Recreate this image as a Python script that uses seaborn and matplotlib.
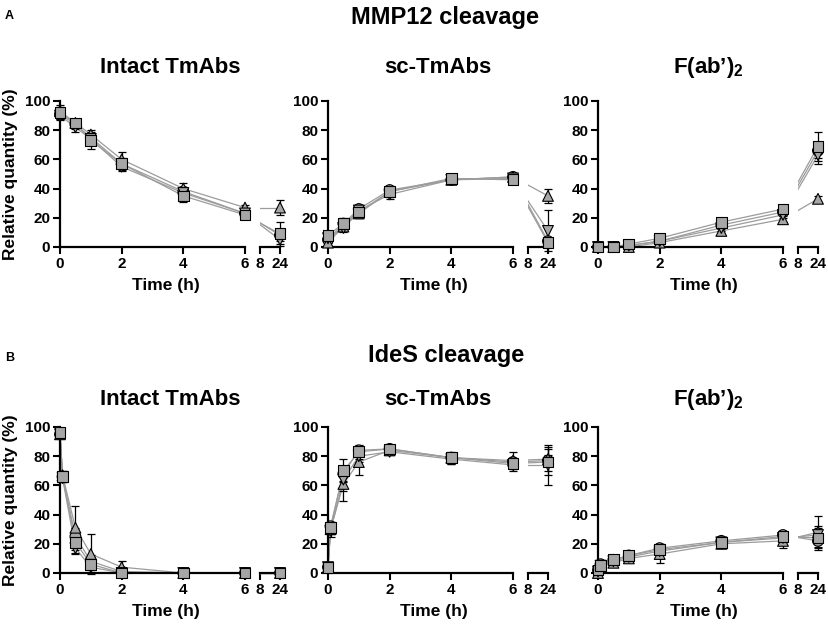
import numpy as np
import pandas as pd
import matplotlib
matplotlib.use("Agg")
import matplotlib.pyplot as plt
import seaborn as sns
from matplotlib.patches import Rectangle
from matplotlib.spines import Spine

# ---- data (mean and SD) ----
times_mmp = [0, 0.5, 1, 2, 4, 6, 24]
times_ides = [0, 0.083, 0.5, 1, 2, 4, 6, 24]
marker_order = ["o", "^", "v", "s"]
tick_pos = [0, 2, 4, 6, 8, 24]
tick_labels = ["0", "2", "4", "6", "8", "24"]

# MMP12 cleavage
mmp_intact = {"o": [91, 84, 75, 57, 38, 23, 8],
              "^": [93, 85, 77, 60, 40, 27, 27],
              "v": [90, 82, 74, 55, 37, 23, 5],
              "s": [92, 85, 73, 57, 35, 22, 9]}
mmp_intact_sd = {"o": [3, 3, 3, 3, 3, 2, 4],
                 "^": [4, 3, 3, 5, 4, 2, 5],
                 "v": [3, 3, 4, 3, 3, 2, 3],
                 "s": [4, 3, 6, 4, 4, 2, 8]}
mmp_sc = {"o": [5, 16, 26, 39, 46, 48, 4],
          "^": [3, 14, 23, 38, 46, 48, 35],
          "v": [6, 13, 25, 36, 46, 47, 11],
          "s": [8, 16, 24, 38, 47, 46, 3]}
mmp_sc_sd = {"o": [2, 3, 3, 2, 2, 2, 2],
             "^": [2, 3, 3, 3, 2, 2, 5],
             "v": [2, 3, 3, 3, 3, 2, 14],
             "s": [3, 4, 4, 4, 3, 3, 2]}
mmp_fab = {"o": [0, 0, 1, 4, 15, 24, 66],
           "^": [0, 0, 0, 3, 11, 19, 33],
           "v": [0, 0, 1, 4, 13, 22, 63],
           "s": [0, 0, 2, 6, 17, 26, 69]}
mmp_fab_sd = {"o": [0, 1, 1, 1, 2, 2, 5],
              "^": [0, 0, 1, 1, 2, 2, 2],
              "v": [0, 0, 1, 1, 2, 2, 6],
              "s": [0, 1, 1, 2, 2, 2, 10]}

# IdeS cleavage
ides_intact = {"o": [95, 66, 25, 8, 1, 0, 0, 0],
               "^": [95, 67, 31, 13, 4, 0, 0, 0],
               "v": [95, 65, 17, 4, 0, 0, 0, 0],
               "s": [96, 66, 21, 6, 0, 0, 0, 0]}
ides_intact_sd = {"o": [1, 3, 6, 4, 1, 0, 0, 0],
                  "^": [1, 3, 15, 14, 4, 0, 0, 0],
                  "v": [1, 3, 4, 2, 0, 0, 0, 0],
                  "s": [1, 4, 7, 3, 1, 0, 0, 0]}
ides_sc = {"o": [4, 32, 68, 84, 85, 79, 76, 77],
           "^": [4, 30, 61, 76, 84, 79, 77, 78],
           "v": [4, 29, 64, 80, 83, 78, 74, 74],
           "s": [4, 31, 70, 83, 85, 79, 75, 76]}
ides_sc_sd = {"o": [1, 3, 5, 3, 2, 3, 3, 4],
              "^": [1, 3, 12, 9, 2, 3, 6, 8],
              "v": [1, 4, 8, 4, 2, 3, 4, 14],
              "s": [1, 4, 8, 5, 2, 4, 3, 9]}
ides_fab = {"o": [2, 6, 9, 12, 17, 22, 26, 22],
            "^": [0, 4, 7, 10, 13, 20, 22, 28],
            "v": [1, 5, 8, 11, 15, 21, 24, 26],
            "s": [2, 5, 9, 12, 16, 21, 25, 24]}
ides_fab_sd = {"o": [1, 1, 2, 2, 3, 2, 3, 4],
               "^": [1, 1, 2, 2, 6, 3, 5, 11],
               "v": [1, 1, 2, 2, 3, 3, 3, 5],
               "s": [1, 1, 2, 2, 4, 4, 3, 8]}

panel_titles = ["Intact TmAbs", "sc-TmAbs", r"F(ab’)$_\mathbf{2}$"]

LINE_COLOR = "#9c9c9c"
FILL_COLOR = "#a6a6a6"

sns.set_style("ticks")
plt.rcParams["font.family"] = ["Liberation Sans", "DejaVu Sans"]
plt.rcParams["font.weight"] = "bold"
plt.rcParams["mathtext.fontset"] = "custom"
plt.rcParams["mathtext.rm"] = "Liberation Sans"
plt.rcParams["mathtext.bf"] = "Liberation Sans:bold"
for key in ["text.color", "axes.labelcolor", "xtick.color", "ytick.color", "axes.edgecolor"]:
    plt.rcParams[key] = "black"

# broken time axis: 0-6 h linear, short gap, then 8-24 h squeezed
brk_in = [-50, 0, 6, 8, 24, 200]
brk_out = [-50, 0, 6, 6.4865, 7.135, 7.135 + 176 * 0.04054]


def fwd(x):
    return np.interp(x, brk_in, brk_out)


def inv(y):
    return np.interp(y, brk_out, brk_in)


def make_frame(times, means):
    rows = []
    for key in marker_order:
        for t, v in zip(times, means[key]):
            rows.append({"time": t, "value": v, "series": key})
    return pd.DataFrame(rows)


def draw_panel(ax, times, means, sds, title, title_y, first_col):
    df = make_frame(times, means)
    early = df[df["time"] <= 6]
    sns.lineplot(data=early, x="time", y="value", units="series", estimator=None,
                 color=LINE_COLOR, linewidth=0.9, legend=False, ax=ax, zorder=1)
    # 6 h -> 24 h segment, only visible right of the axis break
    gap_clip = Rectangle((8, -50), 30, 300, transform=ax.transData,
                         facecolor="none", edgecolor="none")
    for key in marker_order:
        ln, = ax.plot(times[-2:], means[key][-2:], color=LINE_COLOR, lw=0.9, zorder=1)
        ln.set_clip_path(gap_clip)
    for key in marker_order:
        ax.errorbar(times, means[key], yerr=sds[key], fmt="none", ecolor="black",
                    elinewidth=0.9, capsize=3, capthick=0.9, clip_on=False, zorder=2)
    sns.scatterplot(data=df, x="time", y="value", style="series", style_order=marker_order,
                    markers={k: k for k in marker_order}, color=FILL_COLOR,
                    edgecolor="black", linewidth=0.8, s=60, legend=False, ax=ax,
                    zorder=3, clip_on=False)

    ax.set_xscale("function", functions=(fwd, inv))
    ax.set_xlim(0, 24)
    ax.set_ylim(0, 100)
    ax.set_xticks(tick_pos)
    ax.set_xticklabels(tick_labels)
    ax.set_yticks(range(0, 101, 20))
    ax.minorticks_off()
    ax.tick_params(direction="out", length=5, width=1.5, labelsize=11, pad=2,
                   colors="black")

    for side in ["top", "right"]:
        ax.spines[side].set_visible(False)
    ax.spines["left"].set_linewidth(1.6)
    ax.spines["bottom"].set_linewidth(1.6)
    ax.spines["bottom"].set_bounds(0, 6)
    extra = Spine.linear_spine(ax, "bottom")
    extra.set_bounds(8, 24)
    extra.set_linewidth(1.6)
    extra.set_edgecolor("black")
    ax.spines["bottom_late"] = extra

    ax.set_xlabel("Time (h)", fontsize=12.5, fontweight="bold")
    ax.xaxis.set_label_coords(0.48, -0.21)
    if first_col:
        ax.set_ylabel("Relative quantity (%)", fontsize=12.5, fontweight="bold")
        ax.yaxis.set_label_coords(-0.19, 0.5)
    else:
        ax.set_ylabel("")
    ax.text(0.5, title_y, title, transform=ax.transAxes, ha="center", va="baseline",
            fontsize=16, fontweight="bold")


fig = plt.figure(figsize=(8.29, 6.3), dpi=100)

lefts = [60 / 829, 328 / 829, 598 / 829]
width = 220 / 829
height = 146 / 630
rows = [
    (1 - 247 / 630, times_mmp, [mmp_intact, mmp_sc, mmp_fab],
     [mmp_intact_sd, mmp_sc_sd, mmp_fab_sd], 1.192),
    (1 - 573 / 630, times_ides, [ides_intact, ides_sc, ides_fab],
     [ides_intact_sd, ides_sc_sd, ides_fab_sd], 1.151),
]

for bottom, times, panel_means, panel_sds, title_y in rows:
    for i in range(3):
        ax = fig.add_axes([lefts[i], bottom, width, height])
        draw_panel(ax, times, panel_means[i], panel_sds[i], panel_titles[i], title_y, i == 0)

fig.text(445 / 829, 1 - 24 / 630, "MMP12 cleavage", ha="center", va="baseline",
         fontsize=17, fontweight="bold")
fig.text(446 / 829, 1 - 362 / 630, "IdeS cleavage", ha="center", va="baseline",
         fontsize=17, fontweight="bold")
fig.text(5 / 829, 1 - 19 / 630, "A", ha="left", va="baseline", fontsize=9, fontweight="bold")
fig.text(5 / 829, 1 - 361 / 630, "B", ha="left", va="baseline", fontsize=9, fontweight="bold")

fig.savefig("out.png", dpi=100)
